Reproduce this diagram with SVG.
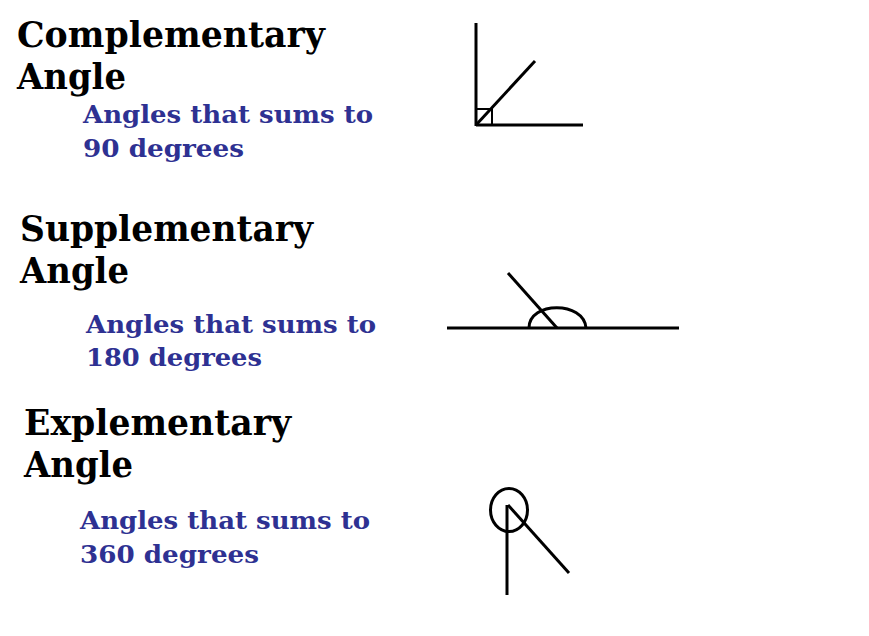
<svg xmlns="http://www.w3.org/2000/svg" width="869" height="636" viewBox="0 0 869 636">
<style>
.t{font-family:"DejaVu Serif","Liberation Serif",serif;font-weight:bold;fill:#000;font-size:35px}
.s{font-family:"DejaVu Serif","Liberation Serif",serif;font-weight:bold;fill:#2e3192;font-size:25px}
.ln{stroke:#000;stroke-width:3;fill:none;stroke-linecap:butt}
</style>
<rect width="869" height="636" fill="#fff"/>
<g id="complementary">
<text class="t" x="17" y="47" textLength="308" lengthAdjust="spacingAndGlyphs">Complementary</text>
<text class="t" x="17" y="89" textLength="109" lengthAdjust="spacingAndGlyphs">Angle</text>
<text class="s" x="83" y="123" textLength="290" lengthAdjust="spacingAndGlyphs">Angles that sums to</text>
<text class="s" x="83" y="157" textLength="161" lengthAdjust="spacingAndGlyphs">90 degrees</text>
<line class="ln" x1="476" y1="23" x2="476" y2="126"/>
<line class="ln" x1="476" y1="125" x2="583" y2="125"/>
<line class="ln" x1="476" y1="125" x2="535" y2="61"/>
<rect x="476" y="109" width="16" height="16" fill="none" stroke="#000" stroke-width="2"/>
</g>
<g id="supplementary">
<text class="t" x="20" y="241" textLength="293" lengthAdjust="spacingAndGlyphs">Supplementary</text>
<text class="t" x="20" y="283" textLength="109" lengthAdjust="spacingAndGlyphs">Angle</text>
<text class="s" x="86" y="333" textLength="290" lengthAdjust="spacingAndGlyphs">Angles that sums to</text>
<text class="s" x="86" y="366" textLength="176" lengthAdjust="spacingAndGlyphs">180 degrees</text>
<line class="ln" x1="447" y1="328" x2="679" y2="328"/>
<line class="ln" x1="508" y1="273" x2="557" y2="328"/>
<path class="ln" d="M529,328 C529,301 584,301 586,328"/>
</g>
<g id="explementary">
<text class="t" x="24" y="435" textLength="267" lengthAdjust="spacingAndGlyphs">Explementary</text>
<text class="t" x="24" y="477" textLength="109" lengthAdjust="spacingAndGlyphs">Angle</text>
<text class="s" x="80" y="529" textLength="290" lengthAdjust="spacingAndGlyphs">Angles that sums to</text>
<text class="s" x="80" y="563" textLength="179" lengthAdjust="spacingAndGlyphs">360 degrees</text>
<ellipse class="ln" cx="509" cy="510" rx="18.5" ry="21.5"/>
<line class="ln" x1="507" y1="505" x2="507" y2="595"/>
<line class="ln" x1="508" y1="505" x2="569" y2="573"/>
</g>
<g id="connectors"/>
</svg>
